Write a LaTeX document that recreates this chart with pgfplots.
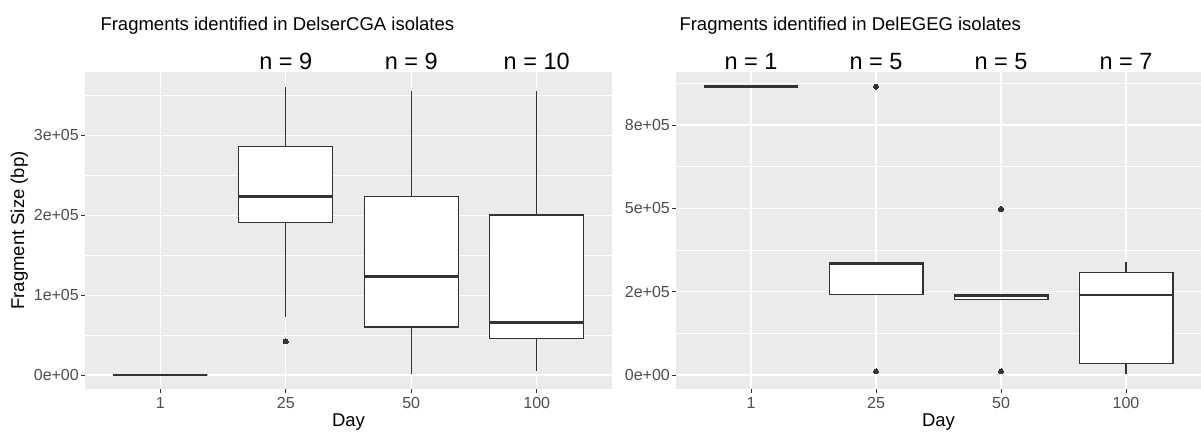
\documentclass[border=0pt]{standalone}
\usepackage{pgfplots}
\pgfplotsset{compat=1.18}
\usepgfplotslibrary{statistics}
\usepackage{fontspec}
\setmainfont{Liberation Sans}
\definecolor{panel}{HTML}{EBEBEB}
\definecolor{ink}{HTML}{333333}
\definecolor{ticktext}{HTML}{4D4D4D}

% values are fragment sizes in units of 1e5 bp
\pgfplotsset{
  ggbase/.style={
    scale only axis, height=317bp,
    axis background/.style={fill=panel},
    axis line style={draw=none},
    xmin=0.4, xmax=4.6,
    xtick={1,2,3,4}, xticklabels={1,25,50,100},
    grid=both,
    major grid style={white, line width=1.1bp},
    minor grid style={white, line width=0.55bp},
    tick align=outside, tick pos=left,
    major tick length=4bp, minor tick length=0bp,
    tick style={color=ink, line width=0.9bp},
    scaled y ticks=false,
    clip=false,
    /pgf/number format/assume math mode=true,
    tick label style={font=\fontsize{16bp}{18bp}\selectfont, text=ticktext},
    yticklabel style={inner sep=0pt, xshift=-2bp},
    xticklabel style={inner sep=0pt, yshift=-4bp},
    boxplot/draw direction=y,
    /pgfplots/boxplot/every median/.style={line width=2.6bp},
    /pgfplots/boxplot/every whisker/.style={line width=1.25bp},
    /pgfplots/boxplot/every box/.style={line width=1.25bp},
  },
  ggbox/.style={draw=ink, fill=white, line width=1.25bp, solid,
    mark=*, mark size=2.5bp, mark options={fill=ink, draw=ink, line width=0pt}},
}
\tikzset{nlab/.style={anchor=base, font=\fontsize{23.5bp}{26bp}\selectfont, text=black, yshift=2bp}}

\begin{document}
\begin{tikzpicture}
\useasboundingbox (0,0) rectangle (1201bp,432bp);

% ---------------- left panel ----------------
\begin{axis}[ggbase, width=527bp, at={(85bp,43bp)}, anchor=south west,
  ymin=-0.175, ymax=3.79,
  ytick={0,1,2,3},
  yticklabels={0e+00,1e+05,2e+05,3e+05},
  minor ytick={0.5,1.5,2.5,3.5}]
\addplot[ggbox, boxplot prepared={lower whisker=0, lower quartile=0, median=0,
  upper quartile=0, upper whisker=0, draw position=1, box extend=0.75, whisker extend=0}]
  coordinates {};
\addplot[ggbox, boxplot prepared={lower whisker=0.72, lower quartile=1.91, median=2.23,
  upper quartile=2.86, upper whisker=3.60, draw position=2, box extend=0.75, whisker extend=0}]
  coordinates {(2,0.42)};
\addplot[ggbox, boxplot prepared={lower whisker=0.01, lower quartile=0.60, median=1.23,
  upper quartile=2.23, upper whisker=3.55, draw position=3, box extend=0.75, whisker extend=0}]
  coordinates {};
\addplot[ggbox, boxplot prepared={lower whisker=0.05, lower quartile=0.46, median=0.66,
  upper quartile=2.00, upper whisker=3.55, draw position=4, box extend=0.75, whisker extend=0}]
  coordinates {};
\node[nlab] at (axis cs:2,3.79) {n = 9};
\node[nlab] at (axis cs:3,3.79) {n = 9};
\node[nlab] at (axis cs:4,3.79) {n = 10};
\end{axis}

% ---------------- right panel ----------------
\begin{axis}[ggbase, width=525bp, at={(676bp,43bp)}, anchor=south west,
  ymin=-0.42, ymax=9.09,
  ytick={0,2.5,5,7.5},
  yticklabels={0e+00,2e+05,5e+05,8e+05},
  minor ytick={1.25,3.75,6.25,8.75}]
\addplot[ggbox, boxplot prepared={lower whisker=8.65, lower quartile=8.65, median=8.65,
  upper quartile=8.65, upper whisker=8.65, draw position=1, box extend=0.75, whisker extend=0}]
  coordinates {};
\addplot[ggbox, boxplot prepared={lower whisker=2.42, lower quartile=2.42, median=3.35,
  upper quartile=3.38, upper whisker=3.38, draw position=2, box extend=0.75, whisker extend=0}]
  coordinates {(2,8.65) (2,0.11)};
\addplot[ggbox, boxplot prepared={lower whisker=2.26, lower quartile=2.26, median=2.39,
  upper quartile=2.42, upper whisker=2.42, draw position=3, box extend=0.75, whisker extend=0}]
  coordinates {(3,4.98) (3,0.11)};
\addplot[ggbox, boxplot prepared={lower whisker=0.02, lower quartile=0.35, median=2.40,
  upper quartile=3.08, upper whisker=3.38, draw position=4, box extend=0.75, whisker extend=0}]
  coordinates {};
\node[nlab] at (axis cs:1,9.09) {n = 1};
\node[nlab] at (axis cs:2,9.09) {n = 5};
\node[nlab] at (axis cs:3,9.09) {n = 5};
\node[nlab] at (axis cs:4,9.09) {n = 7};
\end{axis}

% ---------------- titles and axis titles ----------------
\node[anchor=base west, font=\fontsize{18.5bp}{22bp}\selectfont] at (97bp,401bp)
  {Fragments identified in DelserCGA isolates};
\node[anchor=base west, font=\fontsize{18.5bp}{22bp}\selectfont] at (676bp,401bp)
  {Fragments identified in DelEGEG isolates};
\node[anchor=base, font=\fontsize{18.5bp}{22bp}\selectfont] at (348.5bp,5.5bp) {Day};
\node[anchor=base, font=\fontsize{18.5bp}{22bp}\selectfont] at (938.5bp,5.5bp) {Day};
\node[anchor=base, rotate=90, font=\fontsize{18.5bp}{22bp}\selectfont] at (24bp,201.5bp)
  {Fragment Size (bp)};
\end{tikzpicture}
\end{document}
